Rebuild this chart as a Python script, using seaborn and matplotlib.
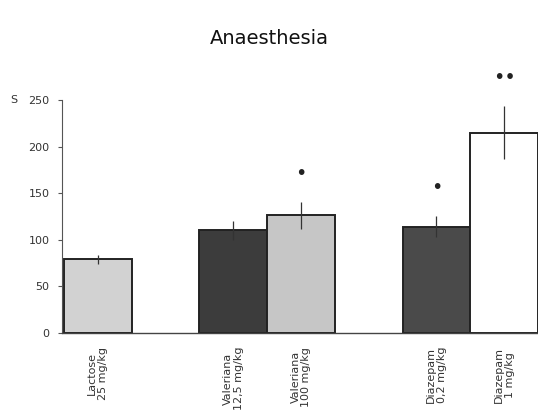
import matplotlib
matplotlib.use("Agg")
import matplotlib.pyplot as plt
import seaborn as sns
import pandas as pd
import numpy as np

# Data
labels = ["Lactose\n25 mg/kg", "Valeriana\n12,5 mg/kg", "Valeriana\n100 mg/kg",
          "Diazepam\n0,2 mg/kg", "Diazepam\n1 mg/kg"]
positions = [0, 2, 3, 5, 6]
means = [79, 110, 126, 114, 215]
errors = [5, 10, 14, 11, 28]
signif = ["", "", "*", "*", "**"]
bar_colors = ["#d2d2d2", "#3c3c3c", "#c6c6c6", "#4a4a4a", "#ffffff"]
yticks = [0, 50, 100, 150, 200, 250]

sns.set_theme(style="white")
plt.rcParams['font.family'] = ['DejaVu Sans']

df = pd.DataFrame({"pos": positions, "mean": means, "label": labels})

fig = plt.figure(figsize=(5.38, 4.13), dpi=100)
ax = fig.add_axes([0.115, 0.194, 0.885, 0.564])

sns.barplot(data=df, x="pos", y="mean", hue="label", palette=bar_colors,
            native_scale=True, width=1.0, dodge=False, legend=False,
            edgecolor="#222222", linewidth=1.4, ax=ax)

ax.errorbar(positions, means, yerr=errors, fmt="none", ecolor="#333333",
            elinewidth=0.9, capsize=0, zorder=5)

for p, m, e, s in zip(positions, means, errors, signif):
    if s:
        ax.text(p, m + e + 31, "•" * len(s), ha="center", va="center",
                fontsize=14, color="#222222")

ax.set_xlim(-0.53, 6.5)
ax.set_ylim(0, 250)
ax.set_yticks(yticks)
ax.set_yticklabels([str(t) for t in yticks], fontsize=8, color="#333333")
ax.set_xticks(positions)
ax.set_xticklabels(labels, rotation=90, fontsize=8, color="#333333",
                   va="top", ha="center", linespacing=1.1)
ax.tick_params(axis="y", which="both", left=True, length=3, width=0.8,
               color="#555555", pad=6)
ax.tick_params(axis="x", bottom=False, pad=4)
ax.set_xlabel("")
ax.set_ylabel("")
for side in ["top", "right"]:
    ax.spines[side].set_visible(False)
ax.spines["left"].set_color("#555555")
ax.spines["bottom"].set_color("#444444")
ax.spines["left"].set_linewidth(0.8)
ax.spines["bottom"].set_linewidth(1.0)

fig.text(14 / 538, 1 - 100 / 413, "S", fontsize=8, color="#333333", ha="center", va="center")
fig.text(0.5, 1 - 38 / 413, "Anaesthesia", fontsize=14, color="#111111",
         ha="center", va="center")

fig.savefig("out.png", dpi=100)
